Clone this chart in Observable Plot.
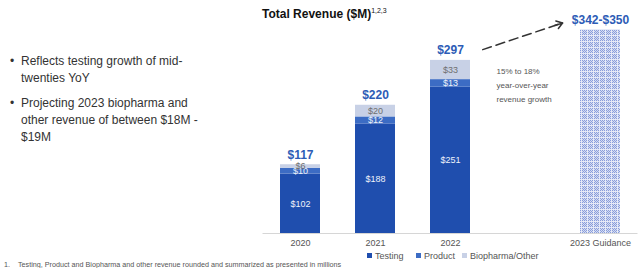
<!DOCTYPE html>
<html>
<head>
<meta charset="utf-8">
<script src="https://cdn.jsdelivr.net/npm/d3@7"></script>
<script src="https://cdn.jsdelivr.net/npm/@observablehq/plot@0.6"></script>
<style>
  html, body { margin: 0; padding: 0; background: #fff; }
  #slide { position: relative; width: 640px; height: 268px; overflow: hidden;
           font-family: "Liberation Sans", Arial, sans-serif; }
  #slide svg { position: absolute; left: 0; top: 0; }
  .abs { position: absolute; white-space: nowrap; }
  .title { left: 262px; top: 7px; font-size: 12px; line-height: 14px; font-weight: bold; color: #111; }
  .title sup { font-size: 7px; font-weight: normal; vertical-align: 5px; line-height: 0; }
  .bullet { left: 10px; font-size: 12px; line-height: 17px; color: #333; }
  .bullet .dot { position: absolute; left: 0; }
  .bullet .txt { position: absolute; left: 11px; }
  .legend { top: 251px; font-size: 9px; line-height: 10px; color: #555; }
  .legend i { display: inline-block; width: 5px; height: 5px; margin-right: 3px; vertical-align: 1px; }
  .foot { top: 261px; left: 4px; font-size: 7.2px; line-height: 8px; color: #555; }
</style>
</head>
<body>
<div id="slide"></div>
<script>
// Revenue by year and segment, $M
const years = ["2020", "2021", "2022"];
const testing = [102, 188, 251];
const product = [10, 12, 13];
const biopharma = [6, 20, 33];
const totals = [117, 220, 297];

// 2023 outlook
const guidanceCategory = "2023 Guidance";
const guidanceRange = [342, 350];
const growthNote = "15% to 18%\nyear-over-year\nrevenue growth";

const segments = ["Testing", "Product", "Biopharma/Other"];
const segmentColors = ["#1f4eae", "#3c6cc4", "#c8d1e6"];
const gapCategory = " ";
const xDomain = [...years, gapCategory, guidanceCategory];

// long table for stacking: one row per year and segment
const rows = years.flatMap((year, i) => [
  {year, segment: "Testing", value: testing[i]},
  {year, segment: "Product", value: product[i]},
  {year, segment: "Biopharma/Other", value: biopharma[i]}
]);
const totalRows = years.map((year, i) => ({year, total: totals[i]}));
const guidanceRows = [{year: guidanceCategory, low: guidanceRange[0], high: guidanceRange[1]}];

// arrow from the 2022 total toward the guidance label
const arrowRows = [{x1: "2022", y1: totals[2], x2: guidanceCategory, y2: 383}];

const chart = Plot.plot({
  width: 640,
  height: 268,
  marginLeft: 262.5,
  marginRight: 2.5,
  marginTop: 29,
  marginBottom: 35,
  style: {fontFamily: "Liberation Sans, Arial, sans-serif", background: "transparent"},
  x: {type: "band", domain: xDomain, paddingInner: 0.4667, paddingOuter: 0.2333, axis: null},
  y: {domain: [0, 350], axis: null},
  color: {domain: segments, range: segmentColors},
  marks: [
    Plot.barY(rows, {x: "year", y: "value", fill: "segment", z: "segment", order: segments}),
    Plot.barY(guidanceRows, {x: "year", y: "high", fill: "url(#guidance-pattern)"}),
    Plot.ruleY([0], {stroke: "#d6d6d6", strokeWidth: 1}),
    Plot.text(rows, Plot.stackY({
      x: "year", y: "value", z: "segment", order: segments,
      text: d => d.segment === "Biopharma/Other" ? "" : "$" + d.value,
      fill: "#eef2fa", fontSize: 9
    })),
    Plot.text(rows, Plot.stackY({
      x: "year", y: "value", z: "segment", order: segments,
      text: d => d.segment === "Biopharma/Other" ? "$" + d.value : "",
      fill: "#6f6f6f", fontSize: 9
    })),
    Plot.text(totalRows, {
      x: "year", y: "total", text: d => "$" + d.total,
      dy: -10, fontSize: 12, fontWeight: "bold", fill: "#2d5cb6"
    }),
    Plot.text(guidanceRows, {
      x: "year", y: "high", text: d => `$${d.low}-$${d.high}`,
      dy: -9, fontSize: 12, fontWeight: "bold", fill: "#2d5cb6"
    }),
    Plot.text([growthNote], {
      x: () => gapCategory, y: () => 257, text: d => d,
      dx: -29, textAnchor: "start", fontSize: 8, lineHeight: 1.75, fill: "#555"
    }),
    Plot.arrow(arrowRows, {
      x1: "x1", y1: "y1", x2: "x2", y2: "y2",
      insetStart: 34, insetEnd: 40, headLength: 0,
      stroke: "#333", strokeWidth: 1.5, strokeDasharray: "9,5"
    }),
    Plot.arrow(arrowRows, {
      x1: "x1", y1: "y1", x2: "x2", y2: "y2",
      insetStart: 110, insetEnd: 40, headLength: 7, headAngle: 70,
      stroke: "#333", strokeWidth: 1.5
    }),
    Plot.axisX({
      ticks: [...years, guidanceCategory], tickSize: 0, tickPadding: 6,
      fontSize: 9, color: "#555", label: null
    })
  ]
});

// dotted checker fill for the guidance column
const cell = 6;
let squares = "";
for (let i = 0; i < cell; i++) {
  for (let j = 0; j < cell; j++) {
    const edge = i === cell - 1 || j === cell - 1;
    const color = edge ? "#e6eaf7" : ((i + j) % 2 ? "#d6ddf2" : "#8a9edb");
    squares += `<rect x="${i}" y="${j}" width="1" height="1" fill="${color}"/>`;
  }
}
d3.select(chart).insert("defs", ":first-child").html(
  `<pattern id="guidance-pattern" patternUnits="userSpaceOnUse" width="${cell}" height="${cell}">${squares}</pattern>`
);

const slide = document.getElementById("slide");
slide.appendChild(chart);

slide.insertAdjacentHTML("beforeend", `
  <div class="abs title">Total Revenue ($M)<sup>1,2,3</sup></div>
  <div class="abs bullet" style="top:53px"><span class="dot">•</span><span class="txt">Reflects testing growth of mid-<br>twenties YoY</span></div>
  <div class="abs bullet" style="top:95px"><span class="dot">•</span><span class="txt">Projecting 2023 biopharma and<br>other revenue of between $18M -<br>$19M</span></div>
  ${segments.map((s, i) => `<div class="abs legend" style="left:${[367, 416, 462][i]}px"><i style="background:${segmentColors[i]}"></i>${s}</div>`).join("")}
  <div class="abs foot">1.&nbsp;&nbsp;&nbsp;&nbsp;Testing, Product and Biopharma and other revenue rounded and summarized as presented in millions</div>
`);
</script>
</body>
</html>
